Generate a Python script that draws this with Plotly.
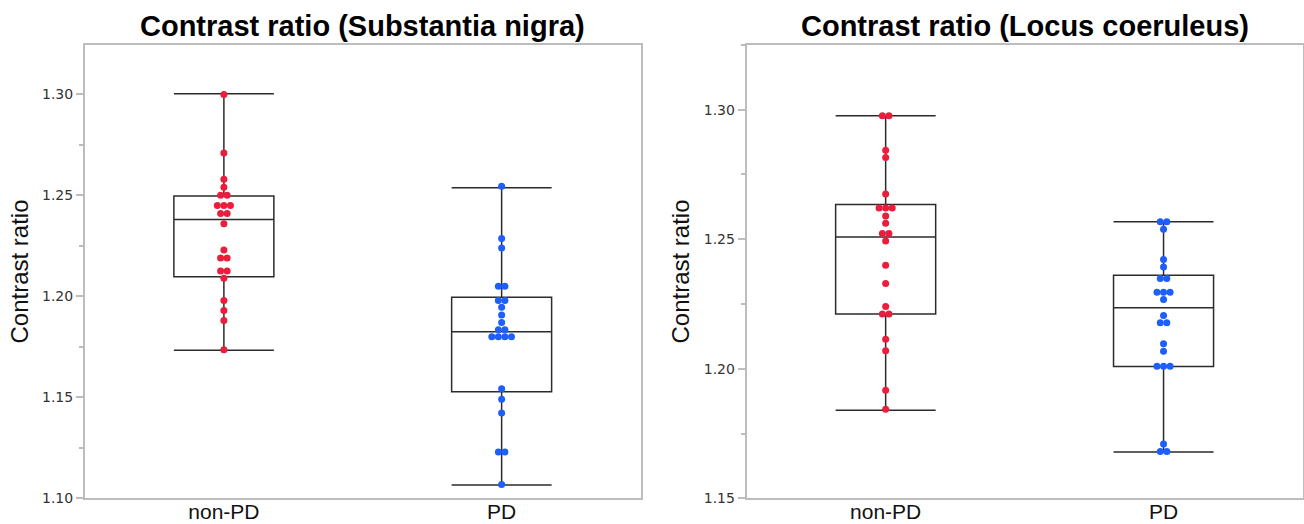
import plotly.graph_objects as go
from collections import Counter

# ---- data ----
categories = ["non-PD", "PD"]
titles = ["Contrast ratio (Substantia nigra)", "Contrast ratio (Locus coeruleus)"]
y_title = "Contrast ratio"

sn_nonpd = [1.300, 1.271, 1.258, 1.254, 1.250, 1.250, 1.245, 1.245, 1.245, 1.241, 1.241,
            1.236, 1.223, 1.219, 1.219, 1.2125, 1.2125, 1.209, 1.198, 1.193, 1.188, 1.1735]
sn_pd = [1.2545, 1.2287, 1.2239, 1.205, 1.205, 1.198, 1.198, 1.1946, 1.1907, 1.1871, 1.1835,
         1.1835, 1.180, 1.180, 1.180, 1.180, 1.1543, 1.149, 1.1422, 1.1229, 1.1229, 1.1068]
lc_nonpd = [1.2977, 1.2977, 1.2844, 1.2816, 1.2675, 1.2621, 1.2621, 1.2621, 1.259, 1.2562, 1.2522,
            1.2522, 1.2493, 1.240, 1.2329, 1.224, 1.2211, 1.2211, 1.2114, 1.207, 1.1917, 1.1844]
lc_pd = [1.2568, 1.2568, 1.2539, 1.2422, 1.2393, 1.2348, 1.2348, 1.2295, 1.2295, 1.2295, 1.2267,
         1.2206, 1.2178, 1.2178, 1.2097, 1.2068, 1.201, 1.201, 1.201, 1.171, 1.1681, 1.1681]

sn_q1 = [1.2097, 1.1528]
sn_median = [1.2381, 1.1825]
sn_q3 = [1.2497, 1.1995]
sn_lower = [1.1733, 1.1066]
sn_upper = [1.3003, 1.2538]

lc_q1 = [1.2211, 1.2009]
lc_median = [1.2509, 1.2236]
lc_q3 = [1.2634, 1.2361]
lc_lower = [1.1840, 1.1679]
lc_upper = [1.2977, 1.2568]

sn_yticks = [1.10, 1.15, 1.20, 1.25, 1.30]
lc_yticks = [1.15, 1.20, 1.25, 1.30]
sn_range = [1.10, 1.3246]
lc_range = [1.15, 1.3251]

# ---- styling ----
RED = "#EC1C3C"
BLUE = "#1E5EFA"
BOXLINE = "#2b2b2b"
FRAME = "#BDBDBD"
DOT_STEP = 0.0236  # horizontal spacing between tied dots (x data units)


def swarm_x(center, values):
    counts = Counter(values)
    seen = Counter()
    xs = []
    for v in values:
        n = counts[v]
        i = seen[v]
        seen[v] += 1
        xs.append(center + (i - (n - 1) / 2) * DOT_STEP)
    return xs


fig = go.Figure()

panels = [
    ("x", "y", sn_q1, sn_median, sn_q3, sn_lower, sn_upper, sn_nonpd, sn_pd),
    ("x2", "y2", lc_q1, lc_median, lc_q3, lc_lower, lc_upper, lc_nonpd, lc_pd),
]

for xa, ya, q1, med, q3, lo, hi, g0, g1 in panels:
    fig.add_trace(go.Box(
        x=[0, 1], q1=q1, median=med, q3=q3, lowerfence=lo, upperfence=hi,
        width=0.36, whiskerwidth=1, boxpoints=False,
        fillcolor="rgba(255,255,255,0)", line=dict(color=BOXLINE, width=1.5),
        xaxis=xa, yaxis=ya, showlegend=False, hoverinfo="skip",
    ))
    for center, vals, col in [(0, g0, RED), (1, g1, BLUE)]:
        fig.add_trace(go.Scatter(
            x=swarm_x(center, vals), y=vals, mode="markers",
            marker=dict(color=col, size=7, line=dict(width=0)),
            xaxis=xa, yaxis=ya, showlegend=False,
        ))

tickfont = dict(family="DejaVu Sans", size=14, color="#333333")
catfont = dict(family="Liberation Sans, Arial, sans-serif", size=21, color="#111111")

xcommon = dict(range=[-0.5, 1.5], tickvals=[0, 1], ticktext=categories,
               showline=True, mirror=True, linecolor=FRAME, linewidth=2,
               ticks="", showgrid=False, zeroline=False, tickfont=catfont,
               ticklabelstandoff=-7, automargin=False)


def ycommon(rng, tv):
    return dict(range=rng, tickvals=tv, ticktext=[f"{v:.2f}" for v in tv],
                showline=True, mirror=True, linecolor=FRAME, linewidth=2,
                ticks="outside", ticklen=7, tickcolor=FRAME, tickwidth=1.5,
                minor=dict(ticks="outside", ticklen=4, tickcolor=FRAME, dtick=0.025, tick0=1.0),
                showgrid=False, zeroline=False, tickfont=tickfont, automargin=False,
                title=dict(text=y_title, font=dict(family="Liberation Sans, Arial, sans-serif",
                                                   size=24, color="#111111"), standoff=7))


fig.update_layout(
    width=1304, height=524,
    margin=dict(l=0, r=0, t=0, b=0, autoexpand=False),
    paper_bgcolor="white", plot_bgcolor="white",
    xaxis=dict(domain=[85 / 1304, 640.5 / 1304], anchor="y", **xcommon),
    yaxis=dict(domain=[25.7 / 524, 479.3 / 524], anchor="x", **ycommon(sn_range, sn_yticks)),
    xaxis2=dict(domain=[746.7 / 1304, 1302.5 / 1304], anchor="y2", **xcommon),
    yaxis2=dict(domain=[25.7 / 524, 479.3 / 524], anchor="x2", **ycommon(lc_range, lc_yticks)),
)

title_font = dict(family="Liberation Sans Narrow, Arial Narrow, Liberation Sans, sans-serif",
                  size=29, color="#000000")
centers = [(85 + 640.5) / 2 / 1304, (746.7 + 1302.5) / 2 / 1304]
for cx, t in zip(centers, titles):
    fig.add_annotation(x=cx, y=(524 - 26) / 524, xref="paper", yref="paper",
                       text=f"<b>{t}</b>", showarrow=False, xanchor="center", yanchor="middle",
                       font=title_font)

fig.write_html("out.html", config={"displayModeBar": False},
               post_script="document.body.style.margin='0';document.body.style.overflow='hidden';")
